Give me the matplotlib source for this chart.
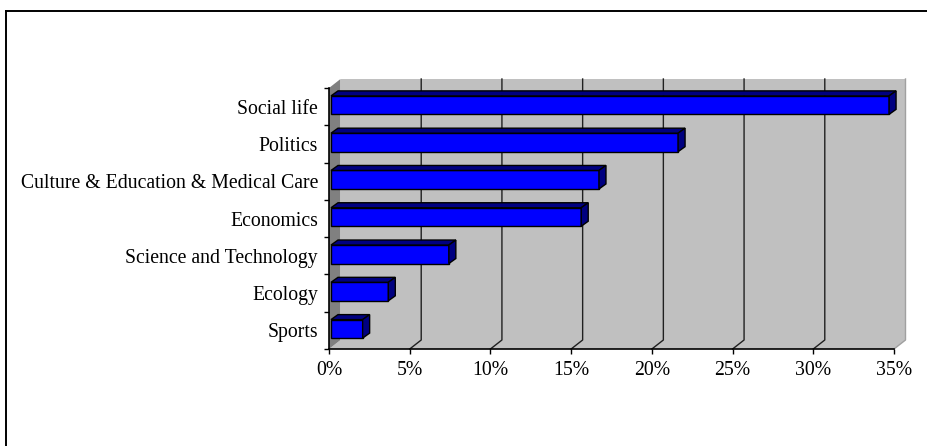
import numpy as np
import matplotlib
matplotlib.use("Agg")
import matplotlib.pyplot as plt
from matplotlib.patches import Polygon, Rectangle
from matplotlib.lines import Line2D

# donnees (de bas en haut)
categories = ["Sports", "Ecology", "Science and Technology", "Economics",
              "Culture & Education & Medical Care", "Politics", "Social life"]
valeurs = [1.96, 3.55, 7.3, 15.5, 16.6, 21.5, 34.57]
x_ticks = [0, 5, 10, 15, 20, 25, 30, 35]
x_labels = ["0%", "5%", "10%", "15%", "20%", "25%", "30%", "35%"]

W, H = 927, 446
fig = plt.figure(figsize=(W / 100, H / 100), dpi=100)
plt.rcParams['font.family'] = ['Liberation Serif', 'DejaVu Serif']

# plan avant de l'axe en pixels
x0, x1, y_bas, y_haut = 329, 894, 349, 88
ax = fig.add_axes([x0 / W, (H - y_bas) / H, (x1 - x0) / W, (y_bas - y_haut) / H])
ax.set_xlim(0, 35)
ax.set_ylim(0, len(categories))

# conversion pixel -> unites de donnees
px = 35 / (x1 - x0)
py = len(categories) / (y_bas - y_haut)

# profondeur du plan arriere
dx, dy = 11.5 * px, 9 * py
n = len(categories)

gris = "#C0C0C0"
# mur du fond
ax.add_patch(Polygon([(dx, dy), (35 + dx, dy), (35 + dx, n + dy), (dx, n + dy)],
                     closed=True, facecolor=gris, edgecolor="none", clip_on=False, zorder=0))
# sol
ax.add_patch(Polygon([(0, 0), (35, 0), (35 + dx, dy), (dx, dy)],
                     closed=True, facecolor=gris, edgecolor="none", clip_on=False, zorder=0))
# mur gauche
ax.add_patch(Polygon([(0, 0), (dx, dy), (dx, n + dy), (0, n)],
                     closed=True, facecolor="#808080", edgecolor="none", clip_on=False, zorder=0))
# bords clairs a droite
ax.plot([35, 35 + dx, 35 + dx], [0, dy, n + dy], color="#A0A0A0", lw=1,
        clip_on=False, zorder=0.5)

# quadrillage
for t in x_ticks[1:-1]:
    ax.plot([t, t + dx, t + dx], [0, dy, n + dy], color="#202020", lw=1,
            clip_on=False, zorder=1)

# barres 3D
ox, oy = 2 * px, 1.5 * py
bx, by = 7 * px, 5 * py
h = 18.5 * py
for i, v in enumerate(valeurs):
    bas = i + 0.5 - h / 2 + oy
    haut = bas + h
    ax.add_patch(Rectangle((ox, bas), v, h, facecolor="#0000FF", edgecolor="black",
                           lw=1, clip_on=False, zorder=3))
    ax.add_patch(Polygon([(ox, haut), (ox + v, haut), (ox + v + bx, haut + by), (ox + bx, haut + by)],
                         closed=True, facecolor="#000080", edgecolor="black", lw=1,
                         clip_on=False, zorder=3))
    ax.add_patch(Polygon([(ox + v, bas), (ox + v + bx, bas + by), (ox + v + bx, haut + by), (ox + v, haut)],
                         closed=True, facecolor="#000080", edgecolor="black", lw=1,
                         clip_on=False, zorder=3))

ax.set_facecolor("none")
for s in ["top", "right"]:
    ax.spines[s].set_visible(False)
for s in ["left", "bottom"]:
    ax.spines[s].set_color("black")
    ax.spines[s].set_linewidth(1.2)
    ax.spines[s].set_zorder(4)

ax.set_xticks(x_ticks)
ax.set_xticklabels(x_labels, fontsize=14.2)
ax.tick_params(axis="x", direction="out", length=3.6, width=1, pad=5)

ax.set_yticks(np.arange(n + 1))
ax.set_yticklabels([])
ax.set_yticks(np.arange(n) + 0.5, minor=True)
ax.set_yticklabels(categories, minor=True, fontsize=14.2)
ax.tick_params(axis="y", which="major", direction="out", length=3.6, width=1)
ax.tick_params(axis="y", which="minor", length=0, pad=8)

# cadre exterieur
fig.add_artist(Line2D([6 / W, 6 / W], [0, 1 - 11 / H], color="black", lw=1.4))
fig.add_artist(Line2D([6 / W, 1], [1 - 11 / H, 1 - 11 / H], color="black", lw=1.4))

fig.savefig("out.png", dpi=100)
